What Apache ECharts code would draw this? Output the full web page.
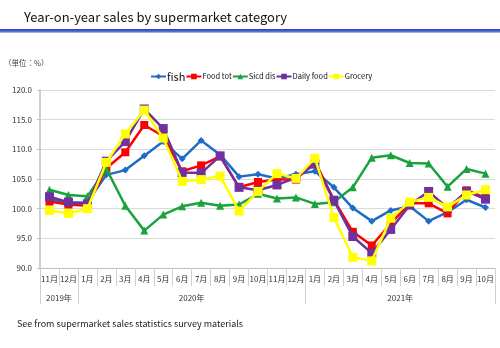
<!DOCTYPE html>
<html><head><meta charset="utf-8">
<script src="https://cdn.jsdelivr.net/npm/echarts@6/dist/echarts.min.js"></script>
<style>html,body{margin:0;padding:0;background:#fff}#c{width:500px;height:348px}</style>
</head><body><div id="c"></div>
<script>
const months = ['11月','12月','1月','2月','3月','4月','5月','6月','7月','8月','9月','10月','11月','12月','1月','2月','3月','4月','5月','6月','7月','8月','9月','10月'];
const years = ['2019年','2020年','2021年'];
const yearSpans = [2, 12, 10];
const yTicks = [90, 95, 100, 105, 110, 115, 120];
const seriesNames = ['fish','Food tot','Sicd dis','Daily food','Grocery'];
const fish = [101.6,101.0,101.1,105.7,106.5,108.9,111.3,108.4,111.5,109.1,105.4,105.8,105.1,105.8,106.3,103.6,100.1,97.9,99.7,100.4,97.9,99.4,101.5,100.2];
const foodTot = [101.2,100.7,100.5,106.8,109.5,114.1,112.2,106.3,107.3,108.8,103.6,104.5,104.9,104.9,108.0,101.5,96.1,93.8,97.5,100.9,100.9,99.2,103.1,101.8];
const sicdDis = [103.2,102.3,102.1,106.7,100.5,96.3,99.0,100.4,101.0,100.5,100.7,102.5,101.7,101.9,100.8,101.1,103.6,108.6,109.0,107.7,107.6,103.7,106.7,105.9];
const dailyFood = [102.0,101.1,100.8,108.0,111.3,116.8,113.5,106.1,106.0,108.9,103.6,103.1,104.0,105.2,107.5,101.4,95.3,92.5,96.5,100.6,102.9,100.1,102.9,101.6];
const grocery = [99.7,99.2,100.0,107.8,112.6,116.6,111.9,104.6,104.9,105.5,99.6,102.9,105.9,105.1,108.5,98.5,91.8,91.2,98.4,101.1,101.9,100.3,102.3,103.2];

const FONT = '"Noto Sans CJK JP", "Noto Sans", sans-serif';
const colors = ['#1f6cc8','#ff0000','#1aa33c','#7030a0','#ffff00'];
const symbols = ['diamond','rect','triangle','rect','rect'];
const symbolSizes = [7,8,8,9,9];
const dataSets = [fish, foodTot, sicdDis, dailyFood, grocery];

const yearBounds = [0];
yearSpans.forEach(s => yearBounds.push(yearBounds[yearBounds.length-1] + s));
const yearCenters = yearSpans.map((s, i) => yearBounds[i] + s / 2);

const chart = echarts.init(document.getElementById('c'), null, {renderer: 'canvas'});
chart.setOption({
  backgroundColor: '#fff',
  animation: false,
  textStyle: {fontFamily: FONT},
  title: {
    text: 'Year-on-year sales by supermarket category',
    left: 19, top: 6,
    textStyle: {fontFamily: FONT, fontSize: 13, fontWeight: 'normal', color: '#111'}
  },
  graphic: [
    {type: 'rect', left: 0, top: 29, shape: {width: 500, height: 4},
     style: {fill: new echarts.graphic.LinearGradient(0,0,0,1,[{offset:0,color:'#2a3fc0'},{offset:0.6,color:'#4a6ad8'},{offset:1,color:'#c8d2f4'}])}},
    {type: 'text', left: 4, top: 59, style: {text: '（単位：%）', fontSize: 7.5, fill: '#444', fontFamily: FONT}},
    {type: 'text', left: 17, top: 319, style: {text: 'See from supermarket sales statistics survey materials', fontSize: 9, fill: '#222', fontFamily: FONT}}
  ],
  legend: {
    left: 145, top: 66,
    itemWidth: 15, itemHeight: 7, itemGap: 0,
    data: seriesNames.map((n, i) => ({name: n, textStyle: {fontSize: i === 0 ? 11 : 7.5, color: '#111'}})),
    textStyle: {fontFamily: FONT, padding: [0,0,0,-4]}
  },
  grid: {left: 40, right: 5, top: 90, bottom: 80},
  xAxis: [
    {
      type: 'category', data: months, boundaryGap: true, position: 'bottom',
      axisLine: {lineStyle: {color: '#bfbfbf', width: 1}},
      axisTick: {show: true, length: 18, lineStyle: {color: '#cfcfcf'}},
      axisLabel: {fontSize: 8, color: '#333', margin: 7, interval: 0}
    },
    {
      type: 'value', min: 0, max: yearBounds[yearBounds.length-1], position: 'bottom', offset: 18,
      axisLine: {show: false},
      splitLine: {show: false},
      axisTick: {show: true, length: 18, customValues: yearBounds, lineStyle: {color: '#cfcfcf'}},
      axisLabel: {fontSize: 8, color: '#333', margin: 8, customValues: yearCenters,
        formatter: v => { const i = yearCenters.indexOf(v); return i >= 0 ? years[i] : ''; }}
    }
  ],
  yAxis: {
    type: 'value', min: yTicks[0], max: yTicks[yTicks.length-1], interval: 5,
    axisLine: {show: true, lineStyle: {color: '#bfbfbf', width: 1.5}},
    axisTick: {show: true, length: 3, lineStyle: {color: '#bfbfbf'}},
    axisLabel: {fontSize: 8, color: '#333', margin: 8, formatter: v => v.toFixed(1)},
    splitLine: {lineStyle: {color: '#d9d9d9', width: 1}}
  },
  series: seriesNames.map((n, i) => ({
    name: n, type: 'line', xAxisIndex: 0, data: dataSets[i],
    symbol: symbols[i], symbolSize: symbolSizes[i], showSymbol: true,
    lineStyle: {color: colors[i], width: 2.5},
    itemStyle: {color: colors[i]},
    z: 2 + i
  }))
});
</script></body></html>
